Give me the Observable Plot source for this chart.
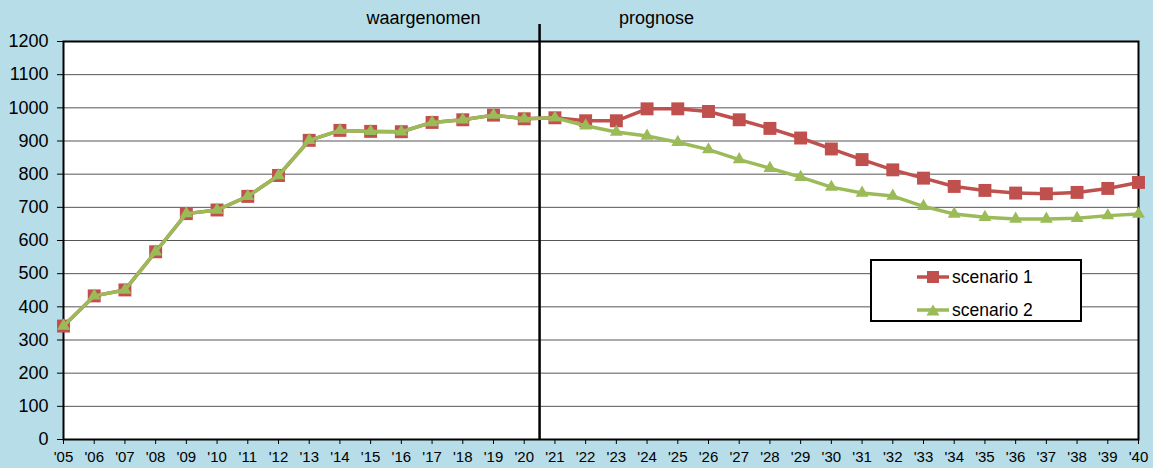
<!DOCTYPE html>
<html>
<head>
<meta charset="utf-8">
<script src="https://cdn.jsdelivr.net/npm/d3@7"></script>
<script src="https://cdn.jsdelivr.net/npm/@observablehq/plot@0.6"></script>
<style>
  html, body { margin: 0; padding: 0; background: #b7dde8; }
  #wrap { position: relative; width: 1153px; height: 468px; font-family: "Liberation Sans", Arial, sans-serif; }
  #legend { position: absolute; left: 870px; top: 259px; width: 212px; height: 63px; box-sizing: border-box;
            border: 2px solid #000; background: #fff; }
  .row { position: absolute; left: 45px; height: 20px; display: flex; align-items: center; font-size: 17.5px; color: #000; white-space: nowrap; }
  .row svg { display: block; margin-right: 3px; }
</style>
</head>
<body>
<div id="wrap"></div>
<script>
const years = [2005,2006,2007,2008,2009,2010,2011,2012,2013,2014,2015,2016,2017,2018,2019,2020,2021,2022,2023,2024,2025,2026,2027,2028,2029,2030,2031,2032,2033,2034,2035,2036,2037,2038,2039,2040];
const scenario1 = [342,433,451,566,681,692,733,796,902,932,929,928,956,964,978,967,970,961,961,997,997,989,964,938,909,876,844,813,788,763,751,743,741,745,757,775];
const scenario2 = [342,433,451,566,681,692,733,796,902,932,929,928,956,964,978,967,970,946,927,915,896,874,844,818,791,761,743,734,703,680,670,665,665,667,675,680];
const yTicks = [0,100,200,300,400,500,600,700,800,900,1000,1100,1200];
const gridValues = [100,200,300,400,500,600,700,800,900,1000,1100];
const periodLabels = ["waargenomen", "prognose"];
const seriesNames = ["scenario 1", "scenario 2"];
const seriesColors = ["#c0504d", "#9bbb59"];
const dividerYear = 2020.5;

const data1 = years.map((year, i) => ({year, value: scenario1[i]}));
const data2 = years.map((year, i) => ({year, value: scenario2[i]}));

const chart = Plot.plot({
  width: 1153,
  height: 468,
  marginTop: 41,
  marginRight: 15,
  marginBottom: 29,
  marginLeft: 63,
  style: {background: "#b7dde8", fontFamily: "'Liberation Sans', Arial, sans-serif", color: "#000", overflow: "visible"},
  x: {domain: [2005, 2040]},
  y: {domain: [0, 1200]},
  marks: [
    Plot.frame({fill: "#fff", stroke: "none"}),
    Plot.ruleY(gridValues, {stroke: "#555", strokeWidth: 1}),
    Plot.axisY({ticks: yTicks, tickSize: 6, tickPadding: 9, fontSize: 18, label: null, tickFormat: d => String(d)}),
    Plot.axisX({ticks: years, tickSize: 5, tickPadding: 7, fontSize: 15, label: null, tickFormat: d => "'" + String(d).slice(2)}),
    Plot.frame({stroke: "#000", strokeWidth: 2}),
    Plot.ruleX([dividerYear], {y1: () => 0, y2: () => 1251, stroke: "#000", strokeWidth: 2.5}),
    Plot.line(data1, {x: "year", y: "value", stroke: seriesColors[0], strokeWidth: 3.5}),
    Plot.dot(data1, {x: "year", y: "value", symbol: "square", r: 7.3, fill: seriesColors[0], stroke: "none"}),
    Plot.line(data2, {x: "year", y: "value", stroke: seriesColors[1], strokeWidth: 3.5}),
    Plot.dot(data2, {x: "year", y: "value", symbol: "triangle", r: 4.8, fill: seriesColors[1], stroke: "none"}),
    Plot.text([periodLabels[0]], {x: () => dividerYear, y: () => 1200, text: d => d, dx: -116, dy: -23, fontSize: 18, fill: "#000"}),
    Plot.text([periodLabels[1]], {x: () => dividerYear, y: () => 1200, text: d => d, dx: 117, dy: -23, fontSize: 18, fill: "#000"})
  ]
});

const wrap = document.getElementById("wrap");
wrap.appendChild(chart);

// legend
const legend = document.createElement("div");
legend.id = "legend";
const rowTops = [6, 39];
seriesNames.forEach((name, i) => {
  const row = document.createElement("div");
  row.className = "row";
  row.style.top = rowTops[i] + "px";
  const marker = i === 0
    ? `<rect x="10" y="1" width="12" height="12" fill="${seriesColors[i]}"/>`
    : `<path d="M16,1.5 L22.5,12.5 L9.5,12.5 Z" fill="${seriesColors[i]}"/>`;
  row.innerHTML = `<svg width="32" height="14"><line x1="0" x2="32" y1="7" y2="7" stroke="${seriesColors[i]}" stroke-width="3.5"/>${marker}</svg><span>${name}</span>`;
  legend.appendChild(row);
});
wrap.appendChild(legend);
</script>
</body>
</html>
